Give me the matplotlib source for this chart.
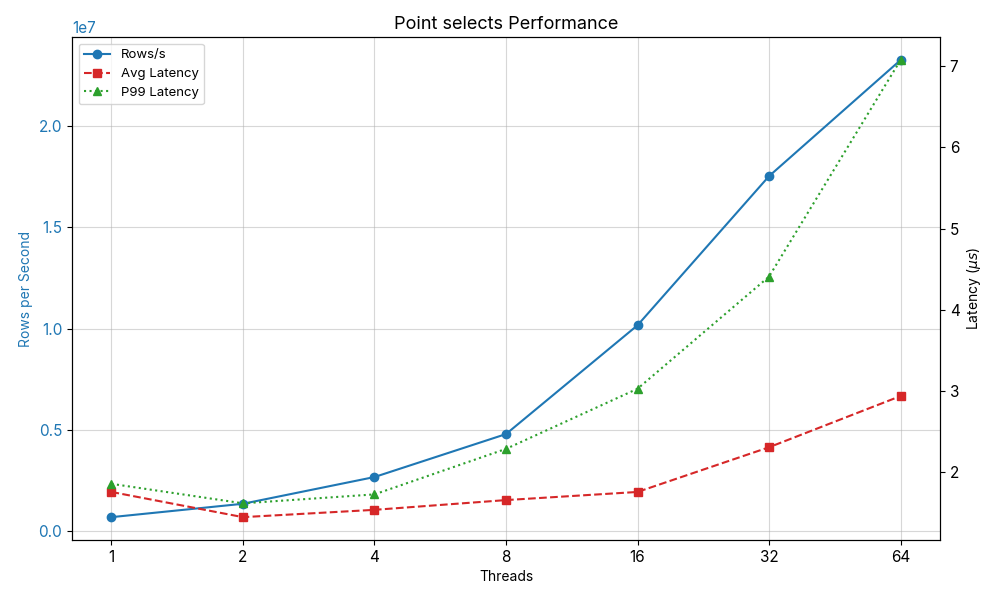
import numpy as np
import matplotlib
matplotlib.use("Agg")
import matplotlib.pyplot as plt

plt.rcParams['font.family'] = ['Inter', 'DejaVu Sans']

threads = [1, 2, 4, 8, 16, 32, 64]
rows_per_sec = [0.69e6, 1.35e6, 2.67e6, 4.79e6, 1.016e7, 1.752e7, 2.325e7]
avg_latency = [1.76, 1.45, 1.54, 1.66, 1.76, 2.31, 2.94]
p99_latency = [1.86, 1.62, 1.73, 2.29, 3.03, 4.41, 7.075]

fig, ax1 = plt.subplots(figsize=(10, 6), dpi=100)
x = np.arange(len(threads))

l1 = ax1.plot(x, rows_per_sec, color='tab:blue', marker='o', linestyle='-', label='Rows/s')
ax1.set_xlabel("Threads")
ax1.set_ylabel("Rows per Second", color='tab:blue')
ax1.tick_params(axis='y', labelcolor='tab:blue', labelsize=11)
ax1.tick_params(axis='x', labelsize=11)
ax1.yaxis.get_offset_text().set_fontsize(11)
ax1.set_xticks(x)
ax1.set_xticklabels([str(t) for t in threads])
ax1.grid(True, alpha=0.5)

ax2 = ax1.twinx()
l2 = ax2.plot(x, avg_latency, color='tab:red', marker='s', linestyle='--', label='Avg Latency')
l3 = ax2.plot(x, p99_latency, color='tab:green', marker='^', linestyle=':', label='P99 Latency')
ax2.set_ylabel(r"Latency ($\mu s$)")
ax2.tick_params(axis='y', labelsize=11)

lines = l1 + l2 + l3
ax1.legend(lines, [l.get_label() for l in lines], loc='upper left', fontsize=9.5)
plt.title("Point selects Performance", fontsize=13)
fig.subplots_adjust(left=0.072, right=0.940, top=0.938, bottom=0.10)
plt.savefig("out.png")
